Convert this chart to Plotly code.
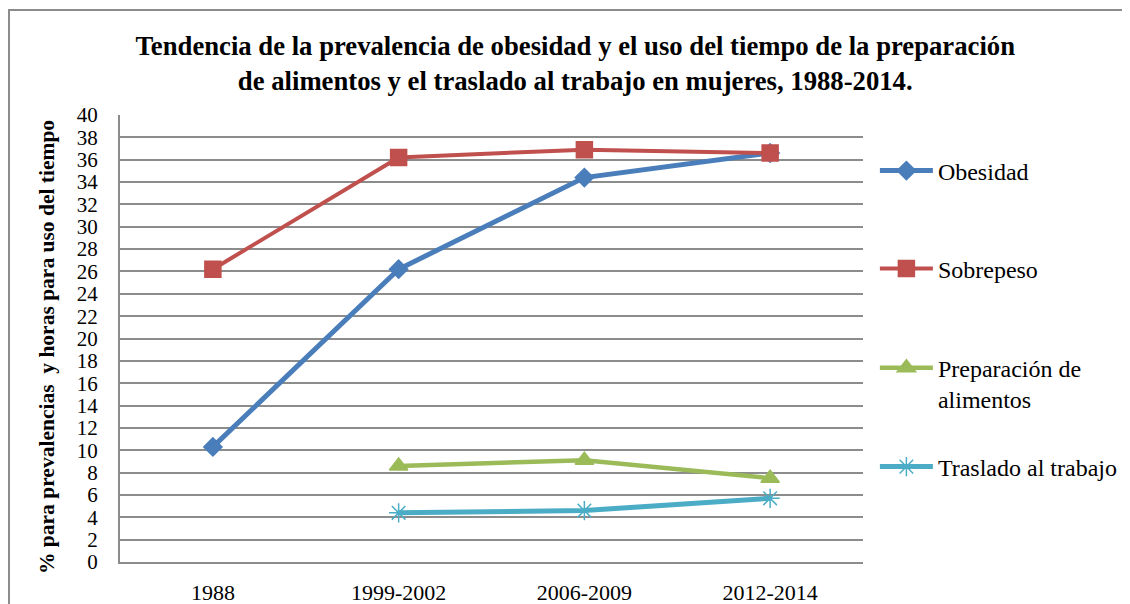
import plotly.graph_objects as go

periods = ["1988", "1999-2002", "2006-2009", "2012-2014"]
obesidad = [10.3, 26.2, 34.4, 36.6]
sobrepeso = [26.2, 36.2, 36.9, 36.6]
preparacion = [None, 8.6, 9.1, 7.5]
traslado = [None, 4.4, 4.6, 5.7]
y_ticks = list(range(0, 41, 2))

FONT = "Liberation Serif"

series = [
    ("Obesidad", obesidad, "#4A7EBB", "diamond", 14, 5),
    ("Sobrepeso", sobrepeso, "#C0504D", "square", 16, 4),
    ("Preparación de<br>alimentos", preparacion, "#9BBB59", "triangle-up", 16, 4.5),
    ("Traslado al trabajo", traslado, "#4BACC6", "asterisk-open", 16, 5),
]
# each entry gets its own legend so the spacing matches the original
legend_ids = ["legend", "legend2", "legend3", "legend4"]
legend_y = [0.8747, 0.6555, 0.399, 0.2125]

fig = go.Figure()
for i, (name, vals, col, sym, sz, lw) in enumerate(series):
    fig.add_trace(go.Scatter(
        x=periods, y=vals, name=name, mode="lines+markers",
        line=dict(color=col, width=lw),
        marker=dict(symbol=sym, size=sz, color=col, line=dict(color=col, width=1.5)),
        legend=legend_ids[i],
    ))

leg_style = dict(x=1.016, xanchor="left", yanchor="middle", font=dict(size=24, family=FONT),
                 valign="top", bgcolor="rgba(0,0,0,0)", itemwidth=53)
legends = {lid: dict(y=ly, **leg_style) for lid, ly in zip(legend_ids, legend_y)}

fig.update_layout(
    width=1130, height=604,
    margin=dict(l=112, r=275, t=107, b=50, autoexpand=False),
    paper_bgcolor="white", plot_bgcolor="white",
    font=dict(family=FONT, size=21, color="black"),
    title=dict(
        text="<b>Tendencia de la prevalencia de obesidad y el uso del tiempo de la preparación<br>de alimentos y el traslado al trabajo en mujeres, 1988-2014.</b>",
        x=0.502, xanchor="center", y=0.922, yanchor="middle",
        font=dict(size=26.7, family=FONT),
    ),
    showlegend=True,
    **legends,
)
fig.update_xaxes(
    type="category", range=[-0.5, 3.5], showgrid=False, automargin=False,
    showline=True, linecolor="#8c8c8c", linewidth=2,
    ticks="outside", ticklen=10, tickcolor="rgba(0,0,0,0)",
    tickfont=dict(size=22, family=FONT),
)
fig.update_yaxes(
    range=[0, 40], tickvals=y_ticks, showgrid=True, gridcolor="#8c8c8c", gridwidth=2,
    showline=True, linecolor="#8c8c8c", linewidth=2, ticks="", automargin=False,
    zeroline=False, ticklabelstandoff=16,
    tickfont=dict(size=21, family=FONT),
)

# y axis title as a rotated annotation (sits a bit below the plot centre in the original)
fig.add_annotation(
    text="<b>% para prevalencias  y horas para uso del tiempo</b>",
    xref="paper", yref="paper", x=(39 - 112) / 743, y=(554 - 339) / 447,
    xanchor="center", yanchor="middle", textangle=-90, showarrow=False,
    font=dict(size=21.5, family=FONT),
)

# outer chart border
fig.add_shape(type="rect", xref="paper", yref="paper",
              x0=(1 - 112) / 743, x1=(1160 - 112) / 743,
              y0=(554 - 640) / 447, y1=(554 - 2) / 447,
              line=dict(color="#8c8c8c", width=2), fillcolor="rgba(0,0,0,0)", layer="below")

fig.write_html("out.html")
